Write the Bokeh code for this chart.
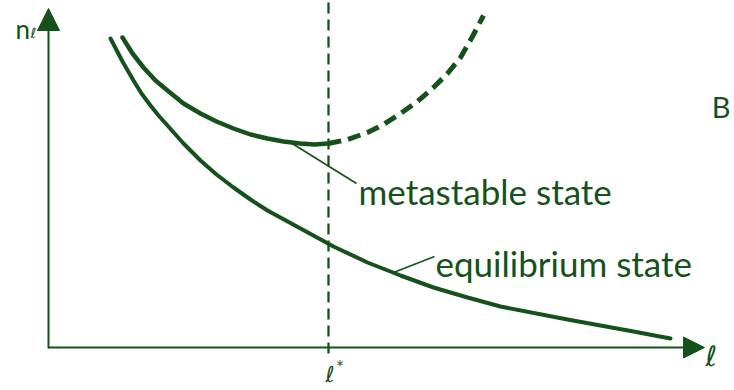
from bokeh.plotting import figure
from bokeh.models import Range1d, Arrow, NormalHead, ColumnDataSource
from bokeh.core.properties import value
from bokeh.embed import file_html
from bokeh.resources import INLINE

INK = "#15521b"
FONT = "Lato"

# cluster size l (horizontal) and number of clusters n_l (vertical), arbitrary units
eq_l = [62, 74, 85, 93, 102, 110, 119, 135, 152, 168, 185, 202, 219, 252, 285, 319,
        352, 385, 419, 452, 519, 585, 622]
eq_n = [309, 286, 267, 254, 242, 232, 222, 204, 187, 173, 160, 148, 137, 119, 101, 85,
        72, 60, 50, 41, 28, 16, 9]

meta_l = [74, 84, 95, 107, 119, 135, 152, 168, 185, 202, 219, 235, 252, 266, 279]
meta_n = [310, 294, 280, 267, 257, 244, 234, 226, 219, 213, 209, 206, 204, 203, 204]

# continuation of the metastable branch beyond l*
meta_ext_l = [280, 299, 319, 335, 352, 369, 385, 399, 412, 424, 435]
meta_ext_n = [204, 208, 215, 223, 234, 246, 260, 274, 290, 311, 332]

l_star = 280

p = figure(width=734, height=390, output_backend="svg", toolbar_location=None,
           x_range=Range1d(-48, 686), y_range=Range1d(-43, 347),
           min_border=0, outline_line_color=None, background_fill_color="white")
p.axis.visible = False
p.grid.visible = False

# coordinate axes with arrowheads
p.add_layout(Arrow(x_start=0, y_start=-1, x_end=0, y_end=339, line_color=INK, line_width=2,
                   end=NormalHead(size=22, fill_color=INK, line_color=INK, line_width=1)))
p.add_layout(Arrow(x_start=0, y_start=0, x_end=656, y_end=0, line_color=INK, line_width=2,
                   end=NormalHead(size=21, fill_color=INK, line_color=INK, line_width=1)))

# critical size marker
p.segment(x0=[l_star], y0=[-6], x1=[l_star], y1=[347], line_color=INK, line_width=2.3,
          line_dash="11 6")

p.line(eq_l, eq_n, line_color=INK, line_width=4, line_cap="round", line_join="round")
p.line(meta_l, meta_n, line_color=INK, line_width=4.5, line_cap="round", line_join="round")
p.line(meta_ext_l, meta_ext_n, line_color=INK, line_width=5, line_dash="13 7",
       line_join="round")

# leader lines to the curve labels
p.segment(x0=[242, 345], y0=[205, 75], x1=[308, 386], y1=[164, 91], line_color=INK,
          line_width=1.6)

labels = ColumnDataSource(dict(
    x=[310, 387],
    y=[157, 85],
    t=["metastable state", "equilibrium state"],
))
p.text(x="x", y="y", text="t", source=labels, text_font=value(FONT), text_font_size="35px",
       text_color=INK, text_baseline="alphabetic", text_align="left")

p.text(x=[-33], y=[319], text=["n"], text_font=value(FONT), text_font_size="26px",
       text_color=INK, text_baseline="alphabetic", text_align="left")
p.text(x=[-18], y=[315], text=["ℓ"], text_font=value("DejaVu Sans"), text_font_size="14px",
       text_color=INK, text_baseline="alphabetic", text_align="left")
p.text(x=[657], y=[-9], text=["ℓ"], text_font=value("DejaVu Sans"), text_font_size="28px",
       text_color=INK, text_baseline="alphabetic", text_align="left")
p.text(x=[277], y=[-27], text=["ℓ"], text_font=value("DejaVu Sans"), text_font_size="22px",
       text_color=INK, text_baseline="alphabetic", text_align="left")
p.text(x=[288], y=[-17], text=["*"], text_font=value("DejaVu Sans"), text_font_size="14px",
       text_color=INK, text_baseline="alphabetic", text_align="left")
p.text(x=[682], y=[241], text=["B"], text_font=value(FONT), text_font_size="29px",
       text_color=INK, text_baseline="alphabetic", text_align="right")

open("out.html", "w").write(file_html(p, INLINE))
